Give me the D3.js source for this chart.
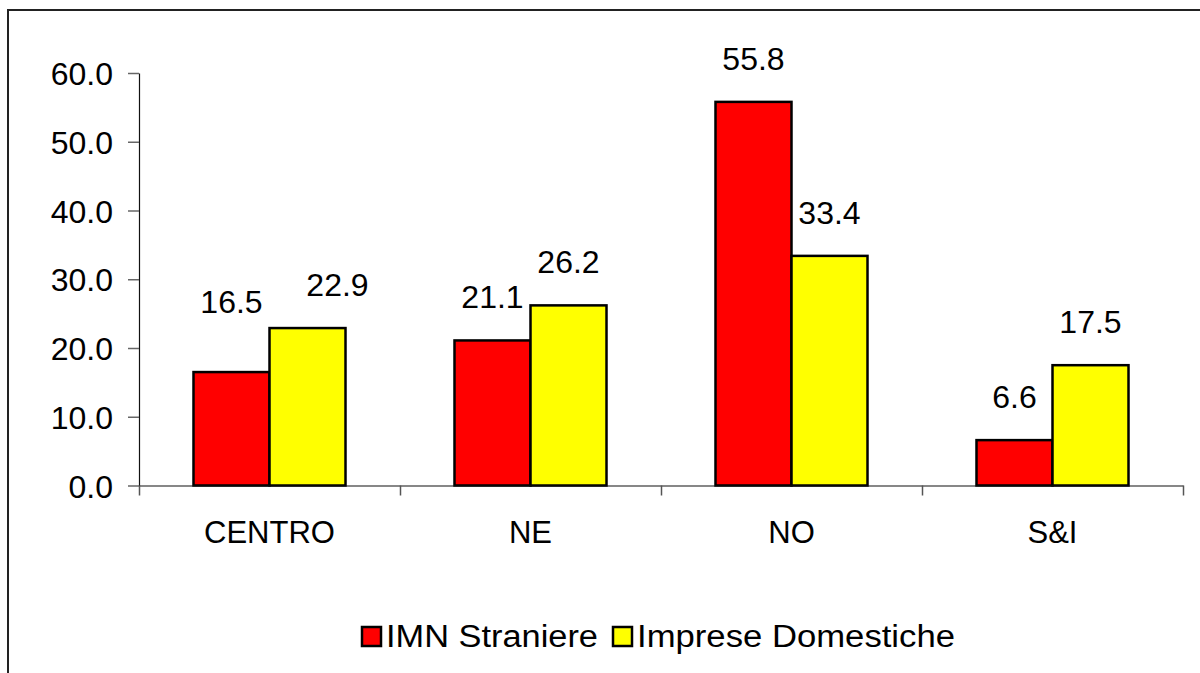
<!DOCTYPE html>
<html>
<head>
<meta charset="utf-8">
<script src="https://cdn.jsdelivr.net/npm/d3@7"></script>
<style>
  body { margin: 0; background: #fff; }
  text { font-family: "Liberation Sans", Arial, sans-serif; fill: #000; }
</style>
</head>
<body>
<script>
(function(){

//chart data
var categories = ["CENTRO", "NE", "NO", "S&I"];
var seriesNames = ["IMN Straniere", "Imprese Domestiche"];
var imnValues = [16.5, 21.1, 55.8, 6.6];
var domValues = [22.9, 26.2, 33.4, 17.5];
var yTicks = [0, 10, 20, 30, 40, 50, 60];
var colors = ["#ff0000", "#ffff00"];

//hand-moved data labels in the original (category|series)
var labelNudge = {
    "CENTRO|0": [0, -27],
    "CENTRO|1": [30, 0]
};

var width = 1200, height = 673;

var svg = d3.select("body")
    .append("svg")
    .attr("width", width)
    .attr("height", height);

//outer chart frame (runs off the right and bottom edge)
svg.append("rect")
    .attr("x", 8)
    .attr("y", 10)
    .attr("width", 1300)
    .attr("height", 800)
    .attr("fill", "none")
    .attr("stroke", "#222")
    .attr("stroke-width", 2);

var plotLeft = 139, plotRight = 1183;

var y = d3.scaleLinear()
    .domain([0, 60])
    .range([485.5, 73]);

var x0 = d3.scaleBand()
    .domain(categories)
    .range([plotLeft, plotRight])
    .padding(0);

var x1 = d3.scaleBand()
    .domain([0, 1])
    .range([0, x0.bandwidth()])
    .paddingInner(0)
    .paddingOuter(0.717);

//linear scale for the category boundary ticks
var xEdge = d3.scaleLinear()
    .domain([0, categories.length])
    .range([plotLeft, plotRight]);

//y axis
var yAxis = svg.append("g")
    .attr("transform", "translate(" + plotLeft + ",0)")
    .call(d3.axisLeft(y)
        .tickValues(yTicks)
        .tickFormat(d3.format(".1f"))
        .tickSize(11)
        .tickSizeOuter(0)
        .tickPadding(15));
yAxis.select(".domain").attr("stroke", "#111").attr("stroke-width", 1.2);
yAxis.selectAll(".tick line").attr("stroke", "#666").attr("stroke-width", 1.5);
yAxis.selectAll(".tick text")
    .attr("font-size", 32)
    .attr("font-family", "Liberation Sans, Arial, sans-serif")
    .attr("fill", "#000")
    .attr("dy", "0.36em");

//bars
var groups = svg.selectAll(".group")
    .data(categories)
    .enter()
    .append("g")
    .attr("class", "group")
    .attr("transform", function(d){ return "translate(" + x0(d) + ",0)"; });

groups.selectAll("rect")
    .data(function(d, i){
        return [
            {cat: d, s: 0, v: imnValues[i]},
            {cat: d, s: 1, v: domValues[i]}
        ];
    })
    .enter()
    .append("rect")
    .attr("x", function(d){ return x1(d.s); })
    .attr("y", function(d){ return y(d.v); })
    .attr("width", x1.bandwidth())
    .attr("height", function(d){ return y(0) - y(d.v); })
    .attr("fill", function(d){ return colors[d.s]; })
    .attr("stroke", "#000")
    .attr("stroke-width", 2.5);

//value labels
groups.selectAll(".val")
    .data(function(d, i){
        return [
            {cat: d, s: 0, v: imnValues[i]},
            {cat: d, s: 1, v: domValues[i]}
        ];
    })
    .enter()
    .append("text")
    .attr("class", "val")
    .attr("text-anchor", "middle")
    .attr("font-size", 32)
    .attr("x", function(d){
        var n = labelNudge[d.cat + "|" + d.s];
        return x1(d.s) + x1.bandwidth() / 2 + (n ? n[0] : 0);
    })
    .attr("y", function(d){
        var n = labelNudge[d.cat + "|" + d.s];
        return y(d.v) - 32 + (n ? n[1] : 0);
    })
    .text(function(d){ return d3.format(".1f")(d.v); });

//x axis with ticks on category boundaries
var xAxis = svg.append("g")
    .attr("transform", "translate(0," + y(0) + ")")
    .call(d3.axisBottom(xEdge)
        .tickValues([0, 1, 2, 3, 4])
        .tickFormat("")
        .tickSize(10)
        .tickSizeOuter(0));
xAxis.select(".domain").attr("stroke", "#111").attr("stroke-width", 1.2);
xAxis.selectAll(".tick line").attr("stroke", "#555").attr("stroke-width", 1.5);

//category labels
svg.selectAll(".cat")
    .data(categories)
    .enter()
    .append("text")
    .attr("class", "cat")
    .attr("text-anchor", "middle")
    .attr("font-size", 31)
    .attr("x", function(d){ return x0(d) + x0.bandwidth() / 2; })
    .attr("y", 543)
    .text(function(d){ return d; });

//legend
var legendItems = [
    {name: seriesNames[0], color: colors[0], bx: 362, tx: 386, len: 212},
    {name: seriesNames[1], color: colors[1], bx: 613, tx: 637, len: 318}
];
var legend = svg.append("g").attr("class", "legend");
legend.selectAll("rect")
    .data(legendItems)
    .enter()
    .append("rect")
    .attr("x", function(d){ return d.bx; })
    .attr("y", 627)
    .attr("width", 19)
    .attr("height", 19)
    .attr("fill", function(d){ return d.color; })
    .attr("stroke", "#000")
    .attr("stroke-width", 2.5);
legend.selectAll("text")
    .data(legendItems)
    .enter()
    .append("text")
    .attr("x", function(d){ return d.tx; })
    .attr("y", 647)
    .attr("font-size", 31)
    .attr("textLength", function(d){ return d.len; })
    .attr("lengthAdjust", "spacingAndGlyphs")
    .text(function(d){ return d.name; });

})();
</script>
</body>
</html>
